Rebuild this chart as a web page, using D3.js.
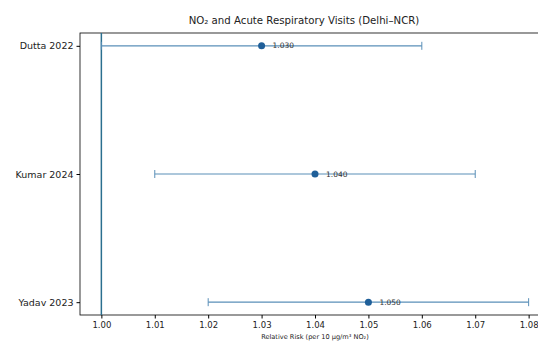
<!DOCTYPE html>
<html>
<head>
<meta charset="utf-8">
<script src="https://cdn.jsdelivr.net/npm/d3@7"></script>
<style>
  body { margin: 0; background: #fff; }
  svg { font-family: "DejaVu Sans", sans-serif; }
</style>
</head>
<body>
<script>
const studies = ["Dutta 2022", "Kumar 2024", "Yadav 2023"];
const rr = [1.03, 1.04, 1.05];
const lower = [1.00, 1.01, 1.02];
const upper = [1.06, 1.07, 1.08];
const rrLabels = ["1.030", "1.040", "1.050"];
const xTicks = [1.00, 1.01, 1.02, 1.03, 1.04, 1.05, 1.06, 1.07, 1.08];

const width = 538, height = 344;
const margin = {top: 33, left: 80, bottom: 29};
const plotW = 470;

const x = d3.scaleLinear().domain([0.996, 1.084]).range([margin.left, margin.left + plotW]);
const y = d3.scaleLinear().domain([-0.1, 2.1]).range([margin.top, height - margin.bottom]);

const svg = d3.select("body").append("svg")
    .attr("width", width)
    .attr("height", height);

// frame
svg.append("rect")
    .attr("x", x.range()[0]).attr("y", y.range()[0])
    .attr("width", plotW).attr("height", y.range()[1] - y.range()[0])
    .attr("fill", "none").attr("stroke", "#000").attr("stroke-width", 0.8);

// x axis
const xAxis = svg.append("g")
    .attr("transform", `translate(0,${y.range()[1]})`)
    .call(d3.axisBottom(x).tickValues(xTicks).tickFormat(d3.format(".2f")).tickSizeOuter(0).tickSize(3.5));
xAxis.select(".domain").remove();
xAxis.selectAll("text").attr("font-size", 8.5).attr("fill", "#222").attr("font-family", "DejaVu Sans");

// y axis
const yAxis = svg.append("g")
    .attr("transform", `translate(${x.range()[0]},0)`)
    .call(d3.axisLeft(y).tickValues([0, 1, 2]).tickFormat(i => studies[i]).tickSizeOuter(0).tickSize(3.5));
yAxis.select(".domain").remove();
yAxis.selectAll("text").attr("font-size", 9.5).attr("fill", "#222").attr("font-family", "DejaVu Sans");

// reference line at 1
svg.append("line")
    .attr("x1", x(1)).attr("x2", x(1))
    .attr("y1", y.range()[0]).attr("y2", y.range()[1])
    .attr("stroke", "#2b6f8f").attr("stroke-width", 1.5);

const rows = svg.append("g").selectAll("g")
    .data(studies)
    .join("g");

rows.append("line")
    .attr("x1", (d, i) => x(lower[i])).attr("x2", (d, i) => x(upper[i]))
    .attr("y1", (d, i) => y(i)).attr("y2", (d, i) => y(i))
    .attr("stroke", "#5a8fb8").attr("stroke-width", 1.2);

rows.append("line")
    .attr("x1", (d, i) => x(lower[i])).attr("x2", (d, i) => x(lower[i]))
    .attr("y1", (d, i) => y(i) - 4).attr("y2", (d, i) => y(i) + 4)
    .attr("stroke", "#5a8fb8").attr("stroke-width", 1);

rows.append("line")
    .attr("x1", (d, i) => x(upper[i])).attr("x2", (d, i) => x(upper[i]))
    .attr("y1", (d, i) => y(i) - 4).attr("y2", (d, i) => y(i) + 4)
    .attr("stroke", "#5a8fb8").attr("stroke-width", 1);

rows.append("circle")
    .attr("cx", (d, i) => x(rr[i])).attr("cy", (d, i) => y(i))
    .attr("r", 3.5)
    .attr("fill", "#1f5f99");

rows.append("text")
    .attr("x", (d, i) => x(rr[i]) + 11).attr("y", (d, i) => y(i))
    .attr("dy", "0.35em")
    .attr("font-size", 7.5)
    .attr("fill", "#333")
    .text((d, i) => rrLabels[i]);

// title
svg.append("text")
    .attr("x", x.range()[0] + plotW / 2 - 11).attr("y", 24)
    .attr("text-anchor", "middle")
    .attr("font-size", 10.2)
    .attr("fill", "#222")
    .text("NO₂ and Acute Respiratory Visits (Delhi–NCR)");

// x label
svg.append("text")
    .attr("x", x.range()[0] + plotW / 2).attr("y", 339)
    .attr("text-anchor", "middle")
    .attr("font-size", 6.6)
    .attr("fill", "#222")
    .text("Relative Risk (per 10 µg/m³ NO₂)");
</script>
</body>
</html>
